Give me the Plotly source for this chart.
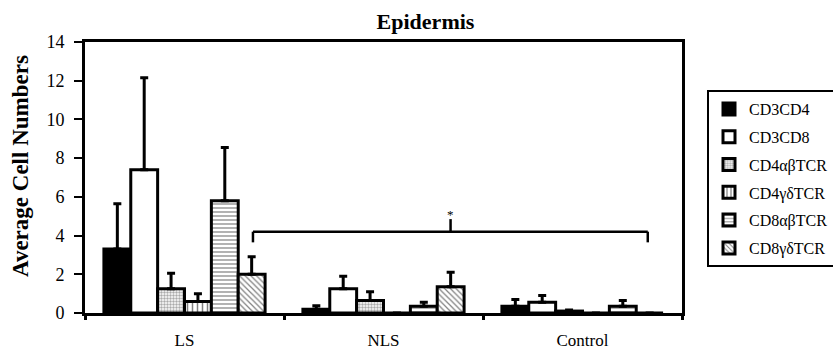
import plotly.graph_objects as go

categories = ["LS", "NLS", "Control"]
series_names = ["CD3CD4", "CD3CD8", "CD4αβTCR", "CD4γδTCR", "CD8αβTCR", "CD8γδTCR"]
cd3cd4 = [3.3, 0.2, 0.35]
cd3cd8 = [7.4, 1.25, 0.55]
cd4ab = [1.25, 0.65, 0.1]
cd4gd = [0.6, 0.0, 0.0]
cd8ab = [5.8, 0.35, 0.35]
cd8gd = [2.0, 1.35, 0.0]
cd3cd4_err = [2.35, 0.17, 0.35]
cd3cd8_err = [4.75, 0.65, 0.35]
cd4ab_err = [0.8, 0.45, 0.05]
cd4gd_err = [0.4, None, None]
cd8ab_err = [2.75, 0.2, 0.3]
cd8gd_err = [0.9, 0.75, None]
y_ticks = [0, 2, 4, 6, 8, 10, 12, 14]

# significance bracket (x in category units, y in data units)
bracket_x0, bracket_x1, bracket_xm = 0.344, 2.328, 1.337
bracket_y, bracket_end_y, bracket_mid_y = 4.2, 3.65, 4.85

values = [cd3cd4, cd3cd8, cd4ab, cd4gd, cd8ab, cd8gd]
errors = [cd3cd4_err, cd3cd8_err, cd4ab_err, cd4gd_err, cd8ab_err, cd8gd_err]
fills = [
    dict(color="black"),
    dict(color="white"),
    dict(color="white", pattern=dict(shape=".", fgcolor="#555555", size=3, solidity=0.5)),
    dict(color="white", pattern=dict(shape="|", fgcolor="black", size=5, solidity=0.3)),
    dict(color="white", pattern=dict(shape="-", fgcolor="black", size=4, solidity=0.3)),
    dict(color="white", pattern=dict(shape="\\", fgcolor="black", size=4, solidity=0.3)),
]

FONT = "Liberation Serif"
L, R, T, B = 85, 151, 42, 37
PW, PH = 833 - L - R, 350 - T - B

fig = go.Figure()
for name, v, e, f in zip(series_names, values, errors, fills):
    marker = dict(line=dict(color="black", width=3), **f)
    fig.add_trace(go.Bar(
        x=categories, y=v, name=name, marker=marker, legendgroup=name,
        error_y=dict(type="data", array=e, arrayminus=[0] * len(e), symmetric=False,
                     color="black", thickness=3, width=4),
    ))

for (x0, x1, y0, y1) in [(bracket_x0, bracket_x1, bracket_y, bracket_y),
                         (bracket_x0, bracket_x0, bracket_end_y, bracket_y),
                         (bracket_x1, bracket_x1, bracket_end_y, bracket_y),
                         (bracket_xm, bracket_xm, bracket_y, bracket_mid_y)]:
    fig.add_shape(type="line", xref="x", yref="y", x0=x0, x1=x1, y0=y0, y1=y1,
                  line=dict(color="black", width=2.5))
fig.add_annotation(x=bracket_xm, y=bracket_mid_y, xref="x", yref="y", text="*",
                   showarrow=False, yanchor="bottom", yshift=-5,
                   font=dict(family=FONT, size=13, color="black"))

# y-axis title as a rotated annotation
fig.add_annotation(x=(20 - L) / PW, y=(350 - B - 166) / PH, xref="paper", yref="paper",
                   text="<b>Average Cell Numbers</b>", textangle=-90, showarrow=False,
                   xanchor="center", yanchor="middle",
                   font=dict(family=FONT, size=23, color="black"))

fig.update_layout(
    width=833, height=350,
    margin=dict(l=L, r=R, t=T, b=B, autoexpand=False),
    paper_bgcolor="white", plot_bgcolor="white",
    barmode="group", bargap=0.19, bargroupgap=0,
    font=dict(family=FONT, color="black"),
    title=dict(text="<b>Epidermis</b>", x=425.5 / 833, xanchor="center", y=1 - 21 / 350,
               yanchor="middle", font=dict(family=FONT, size=22, color="black")),
    legend=dict(x=(707 - L) / PW, y=(350 - B - 90) / PH, xanchor="left", yanchor="top",
                bordercolor="black", borderwidth=2, bgcolor="white",
                font=dict(family=FONT, size=16, color="black"),
                tracegroupgap=4, itemwidth=30),
    showlegend=True,
)
fig.update_xaxes(showline=True, linecolor="black", linewidth=3, mirror=True,
                 ticks="outside", tickson="boundaries", ticklen=4, tickwidth=3,
                 tickcolor="black", ticklabelstandoff=10, automargin=False,
                 tickfont=dict(family=FONT, size=17, color="black"),
                 range=[-0.5, 2.5])
fig.update_yaxes(showline=True, linecolor="black", linewidth=3, mirror=True,
                 range=[0, 14], tickvals=y_ticks, ticks="outside", ticklen=8, tickwidth=2,
                 tickcolor="black", showgrid=False, zeroline=False, ticklabelstandoff=6,
                 automargin=False,
                 tickfont=dict(family=FONT, size=18, color="black"))

fig.write_html("out.html", post_script="document.body.style.margin='0';",
               config={"displayModeBar": False})
